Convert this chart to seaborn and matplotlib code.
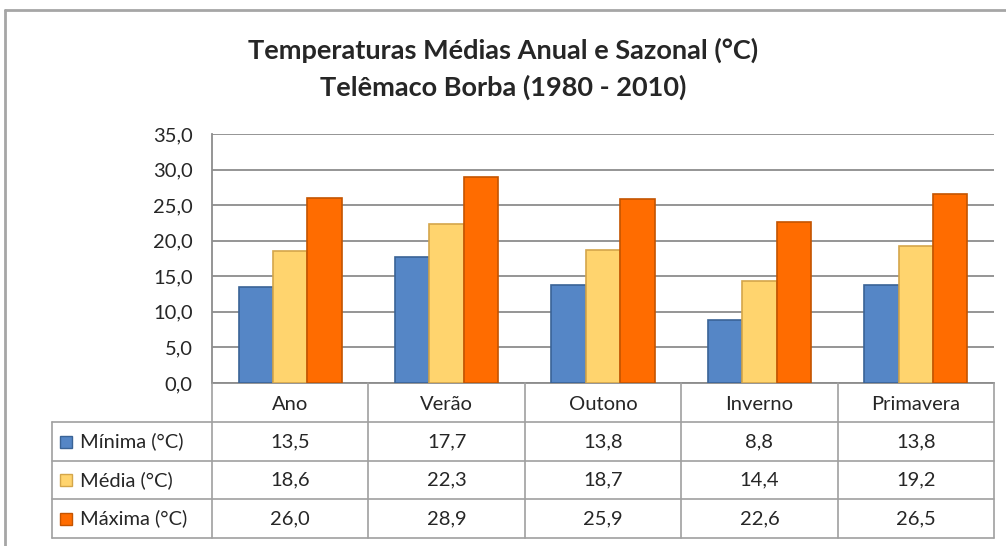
import matplotlib.pyplot as plt
import seaborn as sns
import pandas as pd
from matplotlib.lines import Line2D
from matplotlib.patches import Rectangle
import matplotlib.transforms as mtransforms

categorias = ["Ano", "Verão", "Outono", "Inverno", "Primavera"]
series = ["Mínima (°C)", "Média (°C)", "Máxima (°C)"]
minima = [13.5, 17.7, 13.8, 8.8, 13.8]
media = [18.6, 22.3, 18.7, 14.4, 19.2]
maxima = [26.0, 28.9, 25.9, 22.6, 26.5]
yticks = [0, 5, 10, 15, 20, 25, 30, 35]

cores = ["#5586C6", "#FFD46E", "#FF6C00"]
bordas = ["#3A6396", "#D4A64A", "#C45400"]

df = pd.DataFrame({
    "categoria": categorias * 3,
    "serie": [s for s in series for _ in categorias],
    "valor": minima + media + maxima,
})

sns.set_style("white")
plt.rcParams["font.family"] = ["Lato", "DejaVu Sans"]
fs = 14.5

W, H = 1006, 546
fig = plt.figure(figsize=(W / 100, H / 100), dpi=100)
fx = lambda px: px / W
fy = lambda py: 1 - py / H

ax = fig.add_axes([fx(212), fy(383), fx(994) - fx(212), fy(134) - fy(383)])
sns.barplot(data=df, x="categoria", y="valor", hue="serie", palette=cores,
            saturation=1, width=0.66, ax=ax, legend=False, zorder=3)

# bordas escuras nas barras
for i, cont in enumerate(ax.containers):
    for p in cont:
        p.set_edgecolor(bordas[i])
        p.set_linewidth(1.2)

ax.set_ylim(0, 35)
ax.set_xlim(-0.5, len(categorias) - 0.5)
ax.set_yticks(yticks)
ax.set_yticklabels([f"{v:.1f}".replace(".", ",") for v in yticks], fontsize=fs)
ax.tick_params(axis="y", length=0, pad=14)
ax.set_xticks([])
ax.set_xlabel("")
ax.set_ylabel("")
ax.yaxis.grid(True, color="#8C8C8C", linewidth=1.3, zorder=0)
ax.set_axisbelow(True)
for s in ["top", "right"]:
    ax.spines[s].set_visible(False)
ax.spines["left"].set_color("#8C8C8C")
ax.spines["left"].set_linewidth(1.3)
ax.spines["bottom"].set_color("#8C8C8C")
ax.spines["bottom"].set_linewidth(1.3)

# título
fig.text(0.5, fy(50), "Temperaturas Médias Anual e Sazonal (°C)", ha="center", va="center",
         fontsize=19.5, fontweight="bold")
fig.text(0.5, fy(87), "Telêmaco Borba (1980 - 2010)", ha="center", va="center",
         fontsize=19.5, fontweight="bold")

# tabela de dados
lc = "#A0A0A0"
trans = mtransforms.blended_transform_factory(ax.transData, fig.transFigure)
linhas_y = [383, 422, 461, 499, 538]
for py in linhas_y[1:]:
    fig.add_artist(Line2D([fx(52), fx(994)], [fy(py), fy(py)], color=lc, lw=1.2))
fig.add_artist(Line2D([fx(52), fx(52)], [fy(422), fy(538)], color=lc, lw=1.2))
for i in range(len(categorias) + 1):
    x = i - 0.5
    fig.add_artist(Line2D([x, x], [fy(383), fy(538)], color=lc, lw=1.2, transform=trans))

for i, c in enumerate(categorias):
    fig.text(i, fy(404), c, ha="center", va="center", fontsize=fs, transform=trans)

valores = [minima, media, maxima]
for r, (nome, vals) in enumerate(zip(series, valores)):
    yc = (linhas_y[r + 1] + linhas_y[r + 2]) / 2
    fig.add_artist(Rectangle((fx(60), fy(yc + 6)), fx(12), fy(yc - 6) - fy(yc + 6),
                             facecolor=cores[r], edgecolor=bordas[r], lw=1))
    fig.text(fx(80), fy(yc), nome, ha="left", va="center", fontsize=fs)
    for i, v in enumerate(vals):
        fig.text(i, fy(yc), f"{v:.1f}".replace(".", ","), ha="center", va="center",
                 fontsize=fs, transform=trans)

# moldura externa
fig.add_artist(Line2D([fx(5), 1], [fy(10), fy(10)], color="#A6A6A6", lw=2))
fig.add_artist(Line2D([fx(5), fx(5)], [fy(10), 0], color="#A6A6A6", lw=2))

fig.savefig("out.png", dpi=100)
